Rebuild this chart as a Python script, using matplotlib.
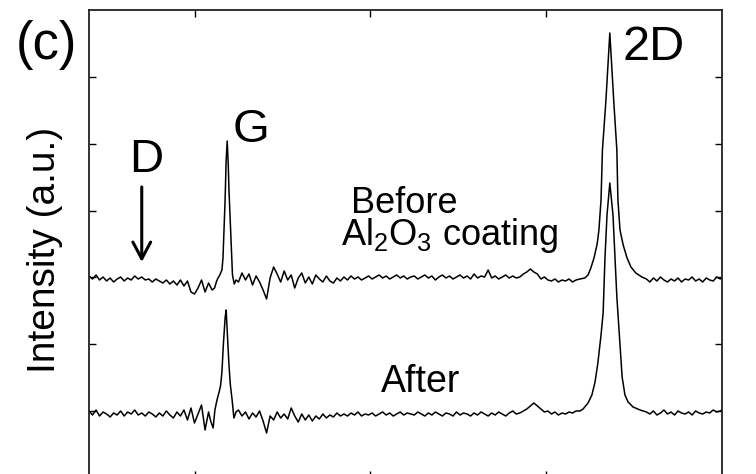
import matplotlib
matplotlib.use("Agg")
import matplotlib.pyplot as plt
import numpy as np

plt.rcParams['font.family'] = ['Liberation Sans', 'DejaVu Sans']
plt.rcParams['mathtext.fontset'] = 'custom'
plt.rcParams['mathtext.rm'] = 'Liberation Sans'

# ---------------- data (Raman shift in cm^-1, intensity in a.u.) ----------------
# Before Al2O3 coating
b_seg1_x = list(range(1200, 1551, 10))
b_seg1_y = [202, 199, 203, 198, 201, 197, 200, 196, 199, 201,
            197, 200, 198, 202, 199, 201, 198, 199, 196, 199,
            197, 195, 198, 194, 197, 193, 198, 192, 197, 186,
            184, 190, 198, 186, 195, 188]
b_G_x = [1557, 1563, 1567, 1572, 1578, 1581, 1585, 1587, 1590, 1593, 1596,
         1598, 1601, 1605, 1608, 1613, 1618]
b_G_y = [190, 197, 200, 203, 208, 220, 258, 278, 318, 337, 313,
         288, 263, 228, 203, 194, 198]
b_seg2_x = list(range(1625, 2586, 10))
b_seg2_y = [196, 205, 198, 204, 193, 202, 196, 188, 179, 200,
            211, 204, 196, 207, 198, 203, 190, 200, 205, 195,
            201, 194, 203, 199, 196, 202, 197, 195, 200, 197,
            201, 198, 202, 199, 201, 198, 200, 202, 199, 201,
            203, 200, 202, 199, 201, 203, 200, 202, 199, 201,
            202, 199, 201, 203, 200, 202, 198, 201, 203, 200,
            202, 199, 201, 203, 200, 202, 199, 204, 200, 202,
            201, 208, 200, 202, 199, 201, 203, 200, 202, 200,
            201, 204, 206, 209, 206, 204, 199, 201, 198, 197,
            199, 196, 198, 197, 199, 196, 198]
b_2D_x = [2596, 2610, 2619, 2627, 2636, 2645, 2650, 2656, 2660, 2670, 2681,
          2692, 2701, 2704, 2710, 2719, 2730, 2741, 2755, 2772]
b_2D_y = [199, 200, 203, 210, 220, 234, 248, 278, 328, 378, 445,
          378, 328, 278, 248, 233, 220, 211, 205, 201]
b_seg3_x = list(range(2785, 2996, 10)) + [3000]
b_seg3_y = [199, 196, 200, 197, 201, 198, 196, 199, 197, 200, 196,
            199, 198, 201, 197, 199, 196, 200, 198, 197, 201, 199, 200]

# After Al2O3 coating
a_seg1_x = list(range(1200, 1541, 10)) + [1546]
a_seg1_y = [67, 63, 68, 62, 66, 64, 61, 65, 63, 67,
            62, 66, 64, 68, 63, 65, 62, 66, 64, 61,
            65, 62, 67, 63, 60, 66, 62, 68, 58, 70,
            55, 64, 73, 48, 66, 57]
a_G_x = [1553, 1558, 1564, 1570, 1574, 1578, 1582, 1587, 1590, 1593, 1598,
         1602, 1607, 1612, 1618]
a_G_y = [50, 68, 78, 86, 92, 106, 133, 160, 168, 148, 113,
         93, 78, 60, 66]
a_seg2_x = list(range(1625, 2586, 10))
a_seg2_y = [68, 62, 66, 59, 65, 61, 67, 57, 45, 62,
            58, 66, 60, 64, 59, 70, 62, 56, 64, 58,
            63, 57, 62, 59, 64, 60, 63, 61, 65, 62,
            64, 62, 65, 63, 66, 62, 64, 63, 65, 62,
            64, 66, 63, 65, 62, 64, 66, 63, 65, 64,
            63, 66, 64, 62, 65, 63, 66, 64, 62, 65,
            64, 62, 66, 63, 65, 64, 62, 65, 63, 66,
            64, 62, 65, 63, 66, 64, 62, 65, 67, 64,
            65, 67, 69, 72, 75, 72, 69, 66, 67, 64,
            66, 63, 65, 64, 66, 65, 67]
a_2D_x = [2596, 2605, 2619, 2630, 2639, 2647, 2656, 2662, 2667, 2673, 2681,
          2690, 2696, 2701, 2710, 2716, 2724, 2733, 2747, 2767]
a_2D_y = [67, 69, 75, 83, 96, 115, 143, 165, 218, 263, 295,
          263, 218, 181, 133, 101, 83, 76, 71, 68]
a_seg3_x = list(range(2785, 2996, 10)) + [3000]
a_seg3_y = [66, 64, 67, 63, 65, 68, 64, 66, 63, 67, 65,
            64, 66, 63, 67, 65, 64, 66, 65, 68, 66, 67, 68]

before_x = b_seg1_x + b_G_x + b_seg2_x + b_2D_x + b_seg3_x
before_y = b_seg1_y + b_G_y + b_seg2_y + b_2D_y + b_seg3_y
after_x = a_seg1_x + a_G_x + a_seg2_x + a_2D_x + a_seg3_x
after_y = a_seg1_y + a_G_y + a_seg2_y + a_2D_y + a_seg3_y

x_ticks = [1500, 2000, 2500]

# ---------------- figure ----------------
fig = plt.figure(figsize=(7.56, 4.74), dpi=100)
ax = fig.add_axes([89/756, 1 - 478/474, 633/756, 468/474])

ax.plot(before_x, before_y, color='black', lw=1.1)
ax.plot(after_x, after_y, color='black', lw=1.1)

ax.set_xlim(1200, 3000)
ax.set_ylim(0, 468)
ax.set_xticks(x_ticks)
ax.set_yticks(np.linspace(0, 468, 8)[1:-1])
ax.tick_params(direction='in', length=5, width=1, top=True, right=True,
               labelbottom=False, labelleft=False, colors='black')
for s in ax.spines.values():
    s.set_linewidth(1.3)
    s.set_color('#222222')

ax.set_ylabel('Intensity (a.u.)', fontsize=28, va='center')
ax.yaxis.set_label_coords(-0.069, 0.487)

ax.text(2718, 418, '2D', fontsize=35, ha='left', va='baseline')
ax.text(1608, 336, 'G', fontsize=34, ha='left', va='baseline')
ax.text(1315, 306, 'D', fontsize=34, ha='left', va='baseline')
ax.annotate('', xy=(1350, 216), xytext=(1350, 291),
            arrowprops=dict(arrowstyle='->,head_length=0.6,head_width=0.32',
                            mutation_scale=20, lw=2.2, color='black',
                            shrinkA=0, shrinkB=0))
ax.text(1917, 233, ' Before\n' + r'Al$_\mathregular{2}$O$_\mathregular{3}$ coating',
        fontsize=26, ha='left', va='baseline', multialignment='left',
        linespacing=0.82)
ax.text(2030, 86, 'After', fontsize=27, ha='left', va='baseline')

fig.text(16/756, 1 - 45/474, '(c)', fontsize=38, ha='left', va='center')

fig.savefig('out.png', dpi=100)
